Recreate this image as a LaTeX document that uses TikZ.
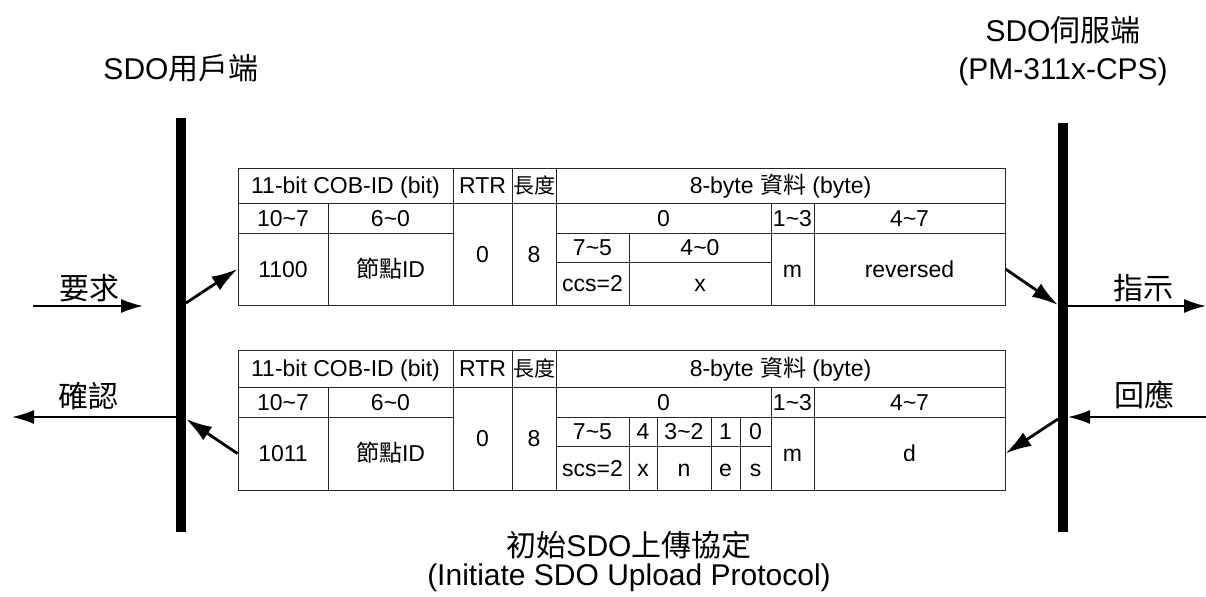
\documentclass[tikz,border=0pt]{standalone}
\usepackage{fontspec}
\setmainfont{Liberation Sans}
\newfontfamily\cjk{Noto Sans CJK TC}
\usepackage{tikz}
\usetikzlibrary{arrows.meta,calc}
\newcommand{\tablefont}{\fontsize{11.5}{13}\selectfont}
\newcommand{\labelfont}{\fontsize{15}{18}\selectfont}
\newcommand{\tcell}[6]{\node[cell, minimum width={(#4-#2)*0.5pt}, minimum height={(#5-#3)*0.5pt}] (#1) at ({(#2+#4)/2},{(#3+#5)/2}) {#6};}
\newcommand{\tld}{\textasciitilde}

\begin{document}
\begin{tikzpicture}[x=0.5pt, y=-0.5pt]
\tikzstyle{cell}=[rectangle, draw=black!85, line width=0.5pt, inner sep=0pt, font=\tablefont, text height=8.2pt, text depth=0pt]
\tikzstyle{lbl}=[inner sep=0pt, font=\labelfont]
\tikzstyle{bar}=[line width=5pt]
\tikzstyle{connect}=[-{Latex[length=13pt,width=8pt]}, line width=1.4pt]
\tikzstyle{flow}=[-{Latex[length=11pt,width=7pt]}, line width=0.85pt]

  \useasboundingbox (0,0) rectangle (1206,596);

  \node[lbl] (client)      at (181,68)  {SDO{\cjk 用戶端}};
  \node[lbl] (server)      at (1063,30) {SDO{\cjk 伺服端}};
  \node[lbl] (servermodel) at (1063,72) {(PM-311x-CPS)};
  \node[lbl] (title)       at (629,545) {{\cjk 初始}SDO{\cjk 上傳協定}};
  \node[lbl] (titleen)     at (629,578) {(Initiate SDO Upload Protocol)};

  \coordinate (ltop) at (181,118);
  \coordinate (lbot) at (181,532);
  \coordinate (rtop) at (1063,123);
  \coordinate (rbot) at (1063,532);
  \draw[bar] (ltop) -- (lbot);
  \draw[bar] (rtop) -- (rbot);

  % upload request
  \tcell{uCob}{238}{168}{453}{203}{11-bit COB-ID (bit)}
  \tcell{uRtrH}{453}{168}{512}{203}{RTR}
  \tcell{uLenH}{512}{168}{556}{203}{{\fontsize{10.5}{12}\selectfont\cjk 長度}}
  \tcell{uDataH}{556}{168}{1005}{203}{8-byte {\cjk 資料} (byte)}
  \tcell{uB107}{238}{203}{328}{233}{10\tld7}
  \tcell{uB60}{328}{203}{453}{233}{6\tld0}
  \tcell{uRtr}{453}{203}{512}{305}{0}
  \tcell{uLen}{512}{203}{556}{305}{8}
  \tcell{uByte0}{556}{203}{771}{233}{0}
  \tcell{uByte13}{771}{203}{814}{233}{1\tld3}
  \tcell{uByte47}{814}{203}{1005}{233}{4\tld7}
  \tcell{uFn}{238}{233}{328}{305}{1100}
  \tcell{uNode}{328}{233}{453}{305}{{\cjk 節點}ID}
  \tcell{uBit75}{556}{233}{629}{262}{7\tld5}
  \tcell{uBit40}{629}{233}{771}{262}{4\tld0}
  \tcell{uCcs}{556}{262}{629}{305}{ccs=2}
  \tcell{uX}{629}{262}{771}{305}{x}
  \tcell{uM}{771}{233}{814}{305}{m}
  \tcell{uRes}{814}{233}{1005}{305}{reversed}

  % upload response
  \tcell{lCob}{238}{350}{453}{387}{11-bit COB-ID (bit)}
  \tcell{lRtrH}{453}{350}{512}{387}{RTR}
  \tcell{lLenH}{512}{350}{556}{387}{{\fontsize{10.5}{12}\selectfont\cjk 長度}}
  \tcell{lDataH}{556}{350}{1005}{387}{8-byte {\cjk 資料} (byte)}
  \tcell{lB107}{238}{387}{328}{417}{10\tld7}
  \tcell{lB60}{328}{387}{453}{417}{6\tld0}
  \tcell{lRtr}{453}{387}{512}{490}{0}
  \tcell{lLen}{512}{387}{556}{490}{8}
  \tcell{lByte0}{556}{387}{771}{417}{0}
  \tcell{lByte13}{771}{387}{814}{417}{1\tld3}
  \tcell{lByte47}{814}{387}{1005}{417}{4\tld7}
  \tcell{lFn}{238}{417}{328}{490}{1011}
  \tcell{lNode}{328}{417}{453}{490}{{\cjk 節點}ID}
  \tcell{lBit75}{556}{417}{629}{446}{7\tld5}
  \tcell{lBit4}{629}{417}{657}{446}{4}
  \tcell{lBit32}{657}{417}{711}{446}{3\tld2}
  \tcell{lBit1}{711}{417}{740}{446}{1}
  \tcell{lBit0}{740}{417}{771}{446}{0}
  \tcell{lScs}{556}{446}{629}{490}{scs=2}
  \tcell{lX}{629}{446}{657}{490}{x}
  \tcell{lN}{657}{446}{711}{490}{n}
  \tcell{lE}{711}{446}{740}{490}{e}
  \tcell{lS}{740}{446}{771}{490}{s}
  \tcell{lM}{771}{417}{814}{490}{m}
  \tcell{lD}{814}{417}{1005}{490}{d}

  \node[lbl] (req)  at (89,288)   {\cjk 要求};
  \node[lbl] (conf) at (88,396)   {\cjk 確認};
  \node[lbl] (ind)  at (1143,288) {\cjk 指示};
  \node[lbl] (resp) at (1144,395) {\cjk 回應};

  \coordinate (reqin)   at (33,306);
  \coordinate (reqout)  at (143,306);
  \coordinate (confin)  at (177,417);
  \coordinate (confout) at (12,417);
  \coordinate (indin)   at (1068,306);
  \coordinate (indout)  at (1206,306);
  \coordinate (respin)  at (1206,417);
  \coordinate (respout) at (1068,417);
  \coordinate (lb1) at (186,303);
  \coordinate (lb2) at (186,419);
  \coordinate (rb1) at (1058,305);
  \coordinate (rb2) at (1058,419);

  \path (reqin) edge [flow] (reqout);
  \path (confin) edge [flow] (confout);
  \path (indin) edge [flow] (indout);
  \path (respin) edge [flow] (respout);

  \path (lb1) edge [connect] (uFn.west);
  \path (uRes.east) edge [connect] (rb1);
  \path (rb2) edge [connect] (lD.east);
  \path (lFn.west) edge [connect] (lb2);

\end{tikzpicture}
\end{document}
